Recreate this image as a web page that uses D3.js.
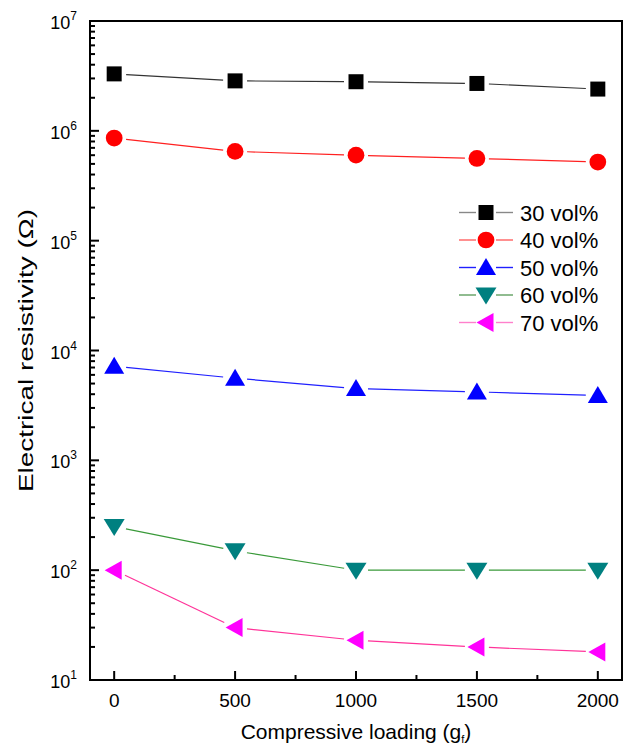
<!DOCTYPE html>
<html>
<head>
<meta charset="utf-8">
<script src="https://cdn.jsdelivr.net/npm/d3@7"></script>
<style>
  body { margin: 0; background: #fff; }
  text { font-family: "Liberation Sans", Arial, sans-serif; fill: #000; }
</style>
</head>
<body>
<div id="chart"></div>
<script>
// data
const loads = [0, 500, 1000, 1500, 2000];
const xTicks = [0, 500, 1000, 1500, 2000];
const yDecades = [1, 2, 3, 4, 5, 6, 7];
const seriesNames = ['30 vol%', '40 vol%', '50 vol%', '60 vol%', '70 vol%'];
const vol30 = [3.3e6, 2.85e6, 2.8e6, 2.7e6, 2.4e6];
const vol40 = [8.6e5, 6.5e5, 6.0e5, 5.6e5, 5.2e5];
const vol50 = [7.2e3, 5.6e3, 4.5e3, 4.2e3, 3.9e3];
const vol60 = [250, 150, 100, 100, 100];
const vol70 = [100, 30, 23, 20, 18];

const series = [
  { name: seriesNames[0], values: vol30, fill: '#000000', line: '#333333', legendLine: '#888888', shape: 'square' },
  { name: seriesNames[1], values: vol40, fill: '#ff0000', line: '#ff2020', legendLine: '#ff6060', shape: 'circle' },
  { name: seriesNames[2], values: vol50, fill: '#0000ff', line: '#2020ff', legendLine: '#2020ff', shape: 'up' },
  { name: seriesNames[3], values: vol60, fill: '#008080', line: '#3a9a3a', legendLine: '#60a060', shape: 'down' },
  { name: seriesNames[4], values: vol70, fill: '#ff00ff', line: '#ff3399', legendLine: '#ff80cc', shape: 'left' }
];

const width = 632, height = 746;
const m = { left: 90, right: 10, top: 21, bottom: 66 };

const svg = d3.select('#chart').append('svg')
  .attr('width', width)
  .attr('height', height);

const x = d3.scaleLinear().domain([-100, 2100]).range([m.left, width - m.right]);
const y = d3.scaleLog().domain([10, 1e7]).range([height - m.bottom, m.top]);

// marker shapes
function markerPath(shape) {
  switch (shape) {
    case 'square': return 'M-7.5,-7.5H7.5V7.5H-7.5Z';
    case 'circle': return d3.symbol(d3.symbolCircle, 220)();
    case 'up': return 'M0,-9.5L10,7.5L-10,7.5Z';
    case 'down': return 'M0,9.5L10.5,-7.5L-10.5,-7.5Z';
    case 'left': return 'M-9.5,0L7.5,-9.5L7.5,9.5Z';
  }
}

// connecting lines with a gap round each marker
const gap = 12;
const lineG = svg.append('g');
series.forEach(s => {
  const pts = loads.map((l, i) => [x(l), y(s.values[i])]);
  for (let i = 0; i < pts.length - 1; i++) {
    const [x1, y1] = pts[i], [x2, y2] = pts[i + 1];
    const len = Math.hypot(x2 - x1, y2 - y1);
    const ux = (x2 - x1) / len, uy = (y2 - y1) / len;
    lineG.append('line')
      .attr('x1', x1 + ux * gap).attr('y1', y1 + uy * gap)
      .attr('x2', x2 - ux * gap).attr('y2', y2 - uy * gap)
      .attr('stroke', s.line)
      .attr('stroke-width', 1.2);
  }
});

const markG = svg.append('g');
series.forEach(s => {
  markG.selectAll(null)
    .data(loads.map((l, i) => [l, s.values[i]]))
    .enter().append('path')
    .attr('d', markerPath(s.shape))
    .attr('transform', d => 'translate(' + x(d[0]) + ',' + y(d[1]) + ')')
    .attr('fill', s.fill);
});

// frame
svg.append('rect')
  .attr('x', m.left).attr('y', m.top)
  .attr('width', width - m.left - m.right)
  .attr('height', height - m.top - m.bottom)
  .attr('fill', 'none')
  .attr('stroke', '#000')
  .attr('stroke-width', 2);

// x ticks (inward) and labels
const xb = height - m.bottom;
const xMinor = d3.range(250, 2000, 500);
const axG = svg.append('g').attr('stroke', '#000').attr('stroke-width', 2);
xTicks.forEach(t => {
  axG.append('line').attr('x1', x(t)).attr('x2', x(t)).attr('y1', xb).attr('y2', xb - 9);
});
xMinor.forEach(t => {
  axG.append('line').attr('x1', x(t)).attr('x2', x(t)).attr('y1', xb).attr('y2', xb - 5);
});
svg.append('g').selectAll('text')
  .data(xTicks).enter().append('text')
  .attr('x', d => x(d))
  .attr('y', xb + 27)
  .attr('text-anchor', 'middle')
  .attr('font-size', 19)
  .text(d => d);

// y ticks (inward) and labels
yDecades.forEach(p => {
  const v = Math.pow(10, p);
  axG.append('line').attr('x1', m.left).attr('x2', m.left + 9).attr('y1', y(v)).attr('y2', y(v));
  if (p < 7) {
    for (let k = 2; k <= 9; k++) {
      const yy = y(k * v);
      axG.append('line').attr('x1', m.left).attr('x2', m.left + 5).attr('y1', yy).attr('y2', yy);
    }
  }
  const t = svg.append('text')
    .attr('x', m.left - 13)
    .attr('y', y(v) + 8)
    .attr('text-anchor', 'end')
    .attr('font-size', 18);
  t.append('tspan').text('10');
  t.append('tspan').attr('dy', -9).attr('font-size', 12).text(p);
});

// axis titles
svg.append('text')
  .attr('transform', 'translate(33,' + ((m.top + xb) / 2) + ') rotate(-90)')
  .attr('text-anchor', 'middle')
  .attr('font-size', 21)
  .attr('textLength', 283)
  .attr('lengthAdjust', 'spacingAndGlyphs')
  .text('Electrical resistivity (Ω)');

const xt = svg.append('text')
  .attr('x', (m.left + width - m.right) / 2)
  .attr('y', 739)
  .attr('text-anchor', 'middle')
  .attr('font-size', 21);
xt.append('tspan').text('Compressive loading (g');
xt.append('tspan').attr('dy', 4).attr('font-size', 11).text('f');
xt.append('tspan').attr('dy', -4).text(')');

// legend
const legG = svg.append('g').attr('transform', 'translate(459,212.5)');
series.forEach((s, i) => {
  const g = legG.append('g').attr('transform', 'translate(0,' + i * 27.5 + ')');
  g.append('line').attr('x1', 0).attr('x2', 17).attr('stroke', s.legendLine).attr('stroke-width', 1.4);
  g.append('line').attr('x1', 37).attr('x2', 54).attr('stroke', s.legendLine).attr('stroke-width', 1.4);
  g.append('path').attr('d', markerPath(s.shape)).attr('transform', 'translate(27,0)').attr('fill', s.fill);
  g.append('text').attr('x', 61).attr('y', 8).attr('font-size', 22).text(s.name);
});
</script>
</body>
</html>
